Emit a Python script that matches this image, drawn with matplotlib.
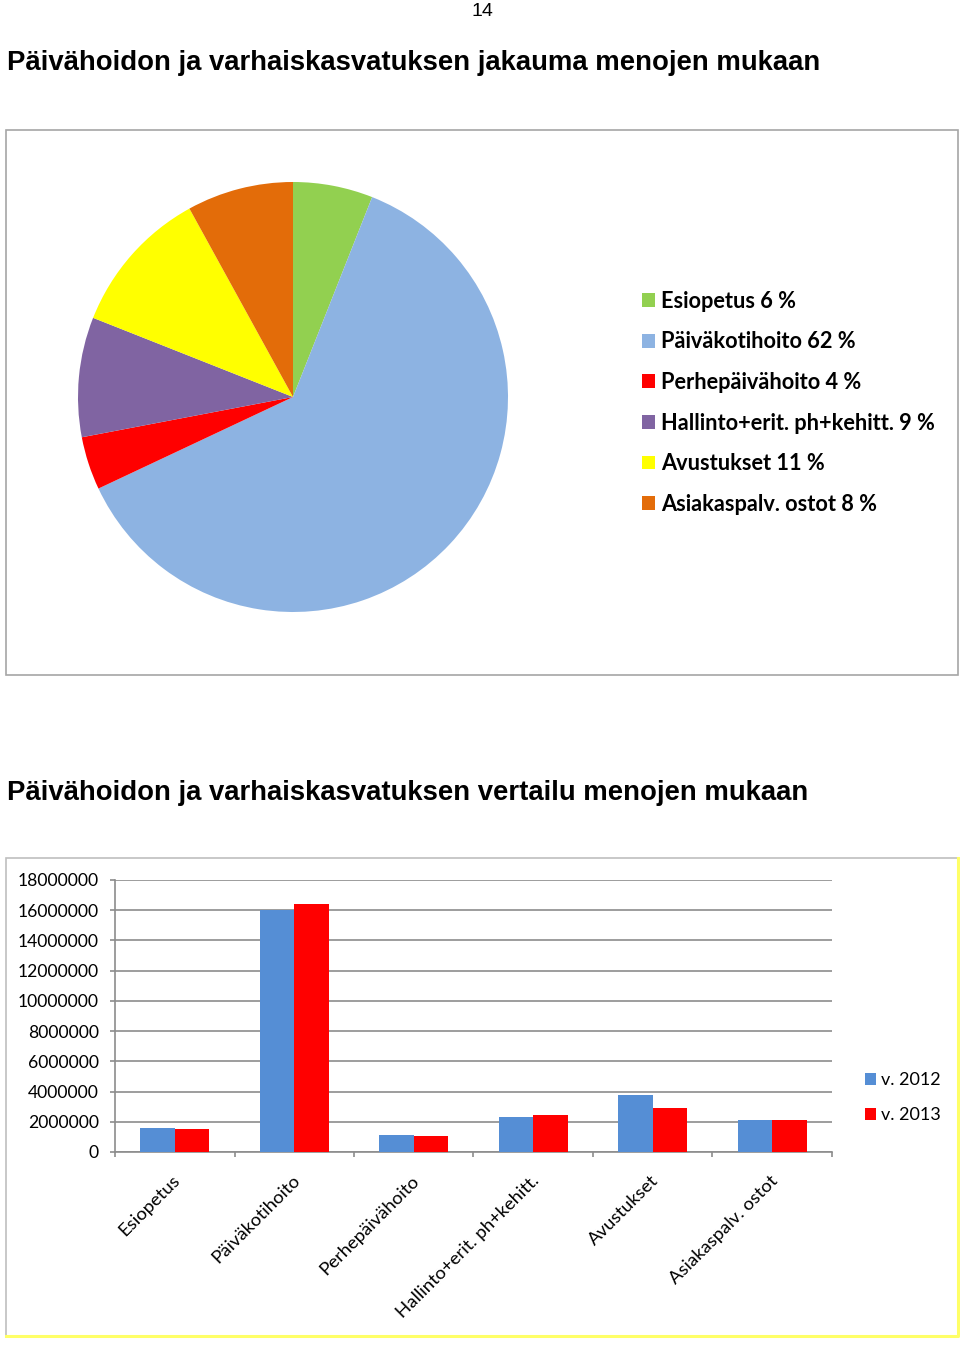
import numpy as np
import matplotlib.pyplot as plt
from matplotlib.patches import Rectangle
from matplotlib.lines import Line2D

# pie data
pie_labels = ["Esiopetus", "Päiväkotihoito", "Perhepäivähoito",
              "Hallinto+erit. ph+kehitt.", "Avustukset", "Asiakaspalv. ostot"]
pie_pct = [6, 62, 4, 9, 11, 8]
pie_colors = ["#92D050", "#8DB3E2", "#FF0000", "#8064A2", "#FFFF00", "#E36C09"]

# bar data
categories = ["Esiopetus", "Päiväkotihoito", "Perhepäivähoito",
              "Hallinto+erit. ph+kehitt.", "Avustukset", "Asiakaspalv. ostot"]
v2012 = [1580000, 16000000, 1100000, 2330000, 3780000, 2130000]
v2013 = [1520000, 16390000, 1030000, 2420000, 2900000, 2130000]
series_names = ["v. 2012", "v. 2013"]
bar_colors = ["#558ED5", "#FF0000"]
yticks = np.arange(0, 18000001, 2000000)

W, H = 960, 1346
fig = plt.figure(figsize=(W / 100, H / 100), dpi=100)
fig.patch.set_facecolor("white")

def fx(px):
    return px / W

def fy(py):
    return 1 - py / H

calibri = ["Lato", "DejaVu Sans"]
arial = ["Liberation Sans", "DejaVu Sans"]

# page number and titles
fig.text(fx(482), fy(11), "14", family=arial, fontsize=14, ha="center", va="center")
fig.text(fx(7), fy(63), "Päivähoidon ja varhaiskasvatuksen jakauma menojen mukaan",
         family=arial, fontsize=19.85, fontweight="bold", ha="left", va="center")
fig.text(fx(7), fy(793), "Päivähoidon ja varhaiskasvatuksen vertailu menojen mukaan",
         family=arial, fontsize=19.85, fontweight="bold", ha="left", va="center")

# chart frames
fig.patches.append(Rectangle((fx(6), fy(675)), fx(958) - fx(6), fy(130) - fy(675),
                             transform=fig.transFigure, fill=False,
                             edgecolor="#A6A6A6", linewidth=1.2))
fig.patches.append(Rectangle((fx(6), fy(1336)), fx(958) - fx(6), fy(858) - fy(1336),
                             transform=fig.transFigure, fill=False,
                             edgecolor="#BFBFBF", linewidth=1.2))
fig.lines.append(Line2D([fx(6), fx(958), fx(958)], [fy(1336), fy(1336), fy(858)],
                        transform=fig.transFigure, color="#FFFF66", linewidth=2.2))

# pie
r = 215
ax1 = fig.add_axes([fx(293 - r), fy(397 + r), fx(2 * r), (2 * r) / H])
wedges, _ = ax1.pie(pie_pct, colors=pie_colors, startangle=90, counterclock=False,
                    radius=1, wedgeprops=dict(linewidth=0))
ax1.set_xlim(-1, 1)
ax1.set_ylim(-1, 1)
ax1.set_aspect("equal")
ax1.axis("off")
pie_legend = ["%s %d %%" % (n, p) for n, p in zip(pie_labels, pie_pct)]
fig.legend(wedges, pie_legend, loc="upper left", bbox_to_anchor=(fx(633), fy(282)),
           frameon=False, prop=dict(family=calibri, size=15.7, weight="bold"),
           handlelength=0.6, handleheight=0.6, handletextpad=0.3,
           labelspacing=0.9, borderaxespad=0)

# bars
ax2 = fig.add_axes([fx(115), fy(1152), fx(832 - 115), (1152 - 880) / H])
x = np.arange(len(categories))
bw = 0.29
ax2.bar(x - bw / 2, v2012, bw, color=bar_colors[0], label=series_names[0], zorder=3)
ax2.bar(x + bw / 2, v2013, bw, color=bar_colors[1], label=series_names[1], zorder=3)
ax2.set_xlim(-0.5, len(categories) - 0.5)
ax2.set_ylim(0, 18000000)
ax2.set_yticks(yticks)
ax2.set_yticklabels([str(v) for v in yticks], family=calibri, fontsize=12.6)
ax2.yaxis.grid(True, color="#8C8C8C", linewidth=1.2, zorder=0)
ax2.set_xticks(np.arange(-0.5, len(categories), 1))
ax2.set_xticklabels([])
ax2.tick_params(axis="both", direction="out", length=3.6, color="#8C8C8C", width=1.2)
ax2.tick_params(axis="y", pad=8)
for s in ["top", "right"]:
    ax2.spines[s].set_visible(False)
for s in ["left", "bottom"]:
    ax2.spines[s].set_color("#8C8C8C")
    ax2.spines[s].set_linewidth(1.2)
for i, c in enumerate(categories):
    ax2.annotate(c, xy=(i, 0), xycoords=("data", "axes fraction"),
                 xytext=(3, -26), textcoords="offset pixels",
                 rotation=45, rotation_mode="anchor", ha="right", va="center",
                 family=calibri, fontsize=13.3)
fig.legend(*ax2.get_legend_handles_labels(), loc="upper left",
           bbox_to_anchor=(fx(858), fy(1065)), frameon=False,
           prop=dict(family=calibri, size=13),
           handlelength=0.6, handleheight=0.6, handletextpad=0.25,
           labelspacing=1.05, borderaxespad=0)

fig.savefig("out.png", dpi=100)
